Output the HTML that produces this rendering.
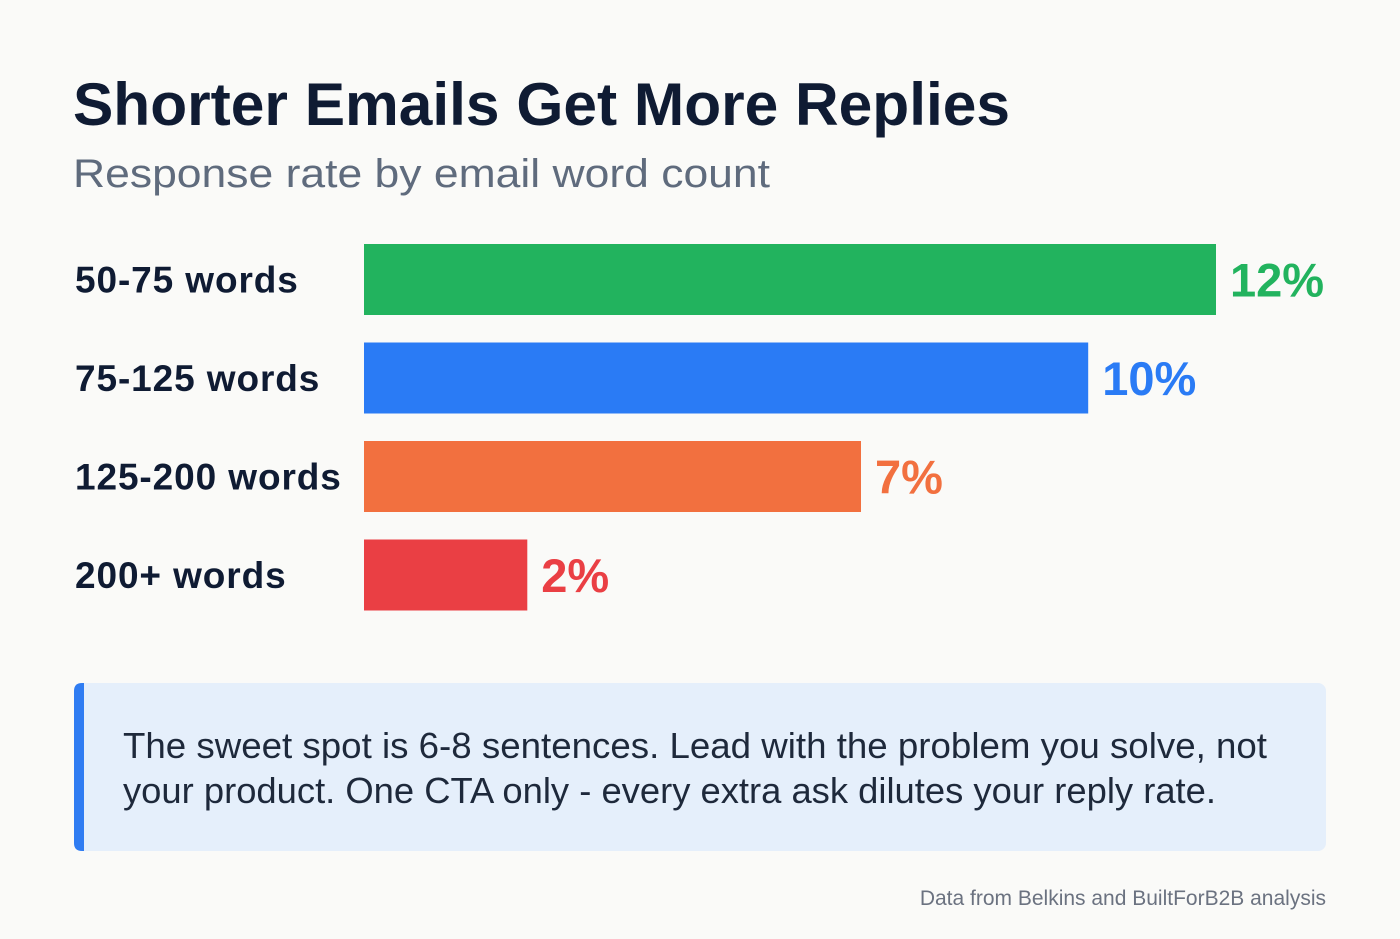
<!DOCTYPE html>
<html><head><meta charset="utf-8"><style>
html,body{margin:0;padding:0;background:#fafaf8;}
svg{display:block;font-family:"Liberation Sans",sans-serif;}
</style></head><body>
<svg id="chart" width="1400" height="939" viewBox="0 0 1400 939">
<rect width="1400" height="939" fill="#fafaf8"/>
<text x="73" y="125" font-size="60" font-weight="bold" fill="#0f1b33" textLength="937" lengthAdjust="spacingAndGlyphs">Shorter Emails Get More Replies</text>
<text x="73" y="187" font-size="40" fill="#5f6b7d" textLength="697" lengthAdjust="spacingAndGlyphs">Response rate by email word count</text>
<g id="bars"></g>
<rect x="74" y="683" width="1252" height="168" rx="8" fill="#e5effb"/>
<path d="M82 683 L84 683 L84 851 L82 851 Q74 851 74 843 L74 691 Q74 683 82 683 Z" fill="#2f7cf2"/>
<text font-size="36" fill="#1e293b">
<tspan x="123" y="758" textLength="1144" lengthAdjust="spacingAndGlyphs">The sweet spot is 6-8 sentences. Lead with the problem you solve, not</tspan>
<tspan x="123" y="803" textLength="1093" lengthAdjust="spacingAndGlyphs">your product. One CTA only - every extra ask dilutes your reply rate.</tspan>
</text>
<text x="1326" y="905" font-size="21" fill="#6b7280" text-anchor="end">Data from Belkins and BuiltForB2B analysis</text>
</svg>
<script>
const categories = ["50-75 words","75-125 words","125-200 words","200+ words"];
const values = [12, 10.2, 7, 2.3];
const valueLabels = ["12%","10%","7%","2%"];
const colors = ["#22b35e","#2a7bf5","#f2703f","#ea3f44"];
const NS="http://www.w3.org/2000/svg";
const x0=364, pxPer=71, y0=244, pitch=98.5, bh=71;
const xs=v=>x0+v*pxPer;
const g=document.getElementById('bars');
categories.forEach((c,i)=>{
  const y=y0+i*pitch;
  const t=document.createElementNS(NS,'text');
  t.setAttribute('x',75);t.setAttribute('y',y+bh/2+13);
  t.setAttribute('font-size','37');t.setAttribute('font-weight','bold');t.setAttribute('fill','#0f1b33');
  t.setAttribute('letter-spacing','0.9');
  t.textContent=c;
  
  
  g.appendChild(t);
  const r=document.createElementNS(NS,'rect');
  r.setAttribute('x',x0);r.setAttribute('y',y);r.setAttribute('width',xs(values[i])-x0);r.setAttribute('height',bh);
  r.setAttribute('fill',colors[i]);
  
  
  g.appendChild(r);
  const v=document.createElementNS(NS,'text');
  v.setAttribute('x',xs(values[i])+14);v.setAttribute('y',y+bh/2+17);
  v.setAttribute('font-size','47');v.setAttribute('font-weight','bold');v.setAttribute('fill',colors[i]);
  v.textContent=valueLabels[i];
  
  
  g.appendChild(v);
});
</script>
</body></html>
